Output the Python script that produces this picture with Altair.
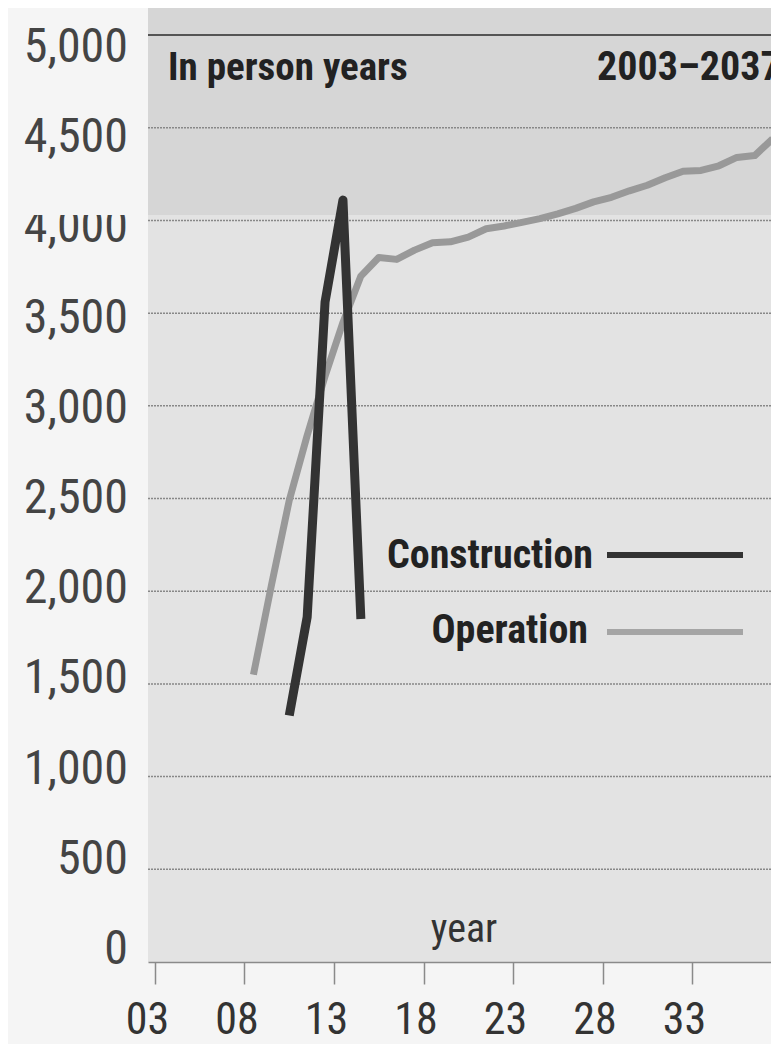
import altair as alt
import pandas as pd

# ---- data ----
construction_years = [2010, 2011, 2012, 2013, 2014]
construction_values = [1330, 1860, 3560, 4110, 1850]

operation_years = [2008, 2009, 2010, 2011, 2012, 2013, 2014, 2015, 2016, 2017,
                   2018, 2019, 2020, 2021, 2022, 2023, 2024, 2025, 2026, 2027,
                   2028, 2029, 2030, 2031, 2032, 2033, 2034, 2035, 2036, 2037]
operation_values = [1550, 2030, 2490, 2840, 3160, 3450, 3700, 3800, 3790, 3840,
                    3880, 3885, 3910, 3955, 3970, 3990, 4010, 4035, 4065, 4100,
                    4125, 4160, 4190, 4230, 4265, 4270, 4295, 4340, 4350, 4440]

x_ticks = [3, 8, 13, 18, 23, 28, 33, 38]
y_ticks = [0, 500, 1000, 1500, 2000, 2500, 3000, 3500, 4000, 4500, 5000]
y_tick_labels = ["0", "500", "1,000", "1,500", "2,000", "2,500", "3,000",
                 "3,500", "4,000", "4,500", "5,000"]
grid_values = [500, 1000, 1500, 2000, 2500, 3000, 3500, 4000, 4500]
top_grid = [5000]
band_start = [4030]

W, H = 623, 954
FONT = "Liberation Sans Narrow, Roboto Condensed, DejaVu Sans Condensed, Liberation Sans"

df_c = pd.DataFrame({"year": construction_years, "value": construction_values})
df_o = pd.DataFrame({"year": operation_years, "value": operation_values})
for d in (df_c, df_o):
    d["pos"] = d["year"] - 2000 + 0.5  # plotted at mid-year

# plot scales
xscale = alt.Scale(domain=[2.61, 37.41], nice=False, zero=False)
yscale = alt.Scale(domain=[0, 5146], nice=False, zero=True)
# the printed y labels sit on a slightly tighter spacing than the grid
ylab_scale = alt.Scale(domain=[0, 5000], range=[942, 40], nice=False, zero=False)

x_axis = alt.Axis(values=x_ticks, title=None, grid=False,
                  labelExpr="datum.value < 10 ? '0' + datum.value : '' + datum.value",
                  labelFont=FONT, labelFontSize=44, labelColor="#333",
                  labelOffset=-8, labelPadding=14, labelFlush=False, labelOverlap=False,
                  tickSize=22, tickColor="#8a8a8a", tickWidth=1.5,
                  domainColor="#8a8a8a", domainWidth=1.5, zindex=0)

base_band = pd.DataFrame({"v": band_start})

band = alt.Chart(base_band).mark_rect(color="#d6d6d6").encode(
    y=alt.Y("v:Q", scale=yscale, axis=None),
    y2=alt.value(0),
    x=alt.value(0), x2=alt.value(W),
)

ylabels = alt.Chart(pd.DataFrame({"v": y_ticks, "t": y_tick_labels})).mark_text(
    font=FONT, fontSize=48, color="#444", align="right", baseline="middle"
).encode(y=alt.Y("v:Q", scale=ylab_scale, axis=None), text="t:N", x=alt.value(-20))

cover = alt.Chart(base_band).mark_rect(color="#f5f5f5").encode(
    y=alt.Y("v:Q", scale=yscale, axis=None),
    y2=alt.value(180),
    x=alt.value(-140), x2=alt.value(0),
)

grid = alt.Chart(pd.DataFrame({"g": grid_values})).mark_rule(
    color="#888888", strokeWidth=1.5, strokeDash=[2, 1]
).encode(y=alt.Y("g:Q", scale=yscale, axis=None), x=alt.value(0), x2=alt.value(W))

grid_top = alt.Chart(pd.DataFrame({"g": top_grid})).mark_rule(
    color="#555", strokeWidth=2
).encode(y=alt.Y("g:Q", scale=yscale, axis=None), x=alt.value(0), x2=alt.value(W))

op_line = alt.Chart(df_o).mark_line(color="#999999", strokeWidth=7, strokeJoin="round").encode(
    x=alt.X("pos:Q", scale=xscale, axis=x_axis),
    y=alt.Y("value:Q", scale=yscale, axis=None),
)
con_line = alt.Chart(df_c).mark_line(color="#333333", strokeWidth=9, strokeJoin="round").encode(
    x=alt.X("pos:Q", scale=xscale, axis=None),
    y=alt.Y("value:Q", scale=yscale, axis=None),
)

def label(text, x, y, align="left", bold=True, size=40, color="#222"):
    return alt.Chart(pd.DataFrame({"t": [text]})).mark_text(
        font=FONT, fontSize=size, fontWeight="bold" if bold else "normal",
        align=align, baseline="alphabetic", color=color
    ).encode(text="t:N", x=alt.value(x), y=alt.value(y))

def legend_line(y, color):
    return alt.Chart(pd.DataFrame({"t": [0]})).mark_rule(color=color, strokeWidth=6).encode(
        x=alt.value(459), x2=alt.value(595), y=alt.value(y))

chart = alt.layer(
    band, ylabels, cover, grid, grid_top, op_line, con_line,
    label("In person years", 20, 72, size=39),
    label("2003\u20132037", 449, 72),
    label("Construction", 445, 560, align="right"),
    label("Operation", 440, 635, align="right"),
    legend_line(547, "#333333"),
    legend_line(624, "#a5a5a5"),
    label("year", 316, 934, align="center", bold=False, color="#333"),
).resolve_scale(x="independent", y="independent").properties(
    width=W, height=H,
    padding={"left": 140, "top": 0, "right": 0, "bottom": 82},
    autosize=alt.AutoSizeParams(type="none"),
    background="#f5f5f5",
).configure_view(fill="#e3e3e3", stroke=None)

chart.save("out.html", embed_options={"renderer": "svg", "actions": False})
